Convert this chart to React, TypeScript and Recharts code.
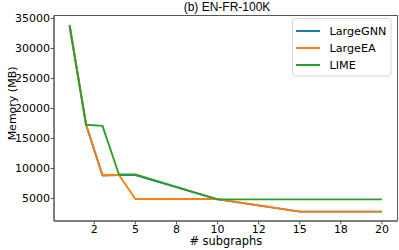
import React from 'react';
import { LineChart, Line, XAxis, YAxis, ReferenceArea, Legend } from 'recharts';

const subgraphs = [1, 2, 3, 4, 5, 10, 15, 20];
const largeGNN = [33950, 17300, 8800, 8900, 8900, 4850, 2800, 2800];
const largeEA = [33800, 17300, 8900, 8900, 4900, 4900, 2800, 2800];
const lime = [33700, 17300, 17100, 9000, 9000, 4850, 4850, 4850];

const seriesNames = ['LargeGNN', 'LargeEA', 'LIME'];
const seriesColors = ['#1f77b4', '#ff7f0e', '#2ca02c'];

const xTickValues = [2.5, 5, 7.5, 10, 12.5, 15, 17.5, 20];
const xTickLabels = ['2', '5', '8', '10', '12', '15', '18', '20'];
const yTickValues = [5000, 10000, 15000, 20000, 25000, 30000, 35000];

const title = '(b) EN-FR-100K';
const xLabel = '# subgraphs';
const yLabel = 'Memory (MB)';

const X_DOMAIN: [number, number] = [0.05, 20.95];
const Y_DOMAIN: [number, number] = [1240, 35510];

const data = subgraphs.map((x, i) => ({
  x,
  LargeGNN: largeGNN[i],
  LargeEA: largeEA[i],
  LIME: lime[i],
}));

const tickFont = { fontFamily: 'DejaVu Sans', fontSize: 11, fill: '#000' };

const LegendBox = (props: any) => {
  const payload = ([...(props.payload || [])] as any[]).sort(
    (a, b) => seriesNames.indexOf(a.value) - seriesNames.indexOf(b.value)
  );
  return (
    <svg width={100} height={59} style={{ display: 'block' }}>
      <rect x={0.5} y={0.5} width={98.5} height={57.5} rx={3} ry={3} fill="#fff" fillOpacity={0.8} stroke="#d6d6d6" strokeWidth={1} />
      {payload.map((p, i) => (
        <g key={p.value}>
          <line x1={4} x2={28} y1={13 + i * 17} y2={13 + i * 17} stroke={p.color} strokeWidth={2} />
          <text x={37.5} y={13 + i * 17} dy="0.36em" fontFamily="DejaVu Sans" fontSize={11.2} fill="#000">
            {p.value}
          </text>
        </g>
      ))}
    </svg>
  );
};

export default function App() {
  return (
    <div style={{ position: 'absolute', left: 0, top: 0, width: 399, height: 250, background: '#fff' }}>
      <div
        style={{
          position: 'absolute',
          left: 0,
          width: 454,
          top: 0,
          textAlign: 'center',
          fontFamily: 'Liberation Sans',
          fontSize: 12,
          lineHeight: '15px',
          color: '#000',
          whiteSpace: 'nowrap',
        }}
      >
        {title}
      </div>
      <LineChart
        width={399}
        height={250}
        data={data}
        margin={{ top: 15.5, right: 1.4, left: 0, bottom: 0 }}
      >
        <XAxis
          dataKey="x"
          type="number"
          domain={X_DOMAIN}
          allowDataOverflow
          ticks={xTickValues}
          tickFormatter={(v: number) => xTickLabels[xTickValues.indexOf(v)] ?? String(v)}
          interval={0}
          height={29}
          tickSize={3.5}
          tickMargin={0.5}
          tick={tickFont}
          axisLine={{ stroke: '#555', strokeWidth: 1 }}
          tickLine={{ stroke: '#555', strokeWidth: 1 }}
          label={{
            value: xLabel,
            position: 'insideBottom',
            offset: 5,
            fontFamily: 'DejaVu Sans',
            fontSize: 11.4,
            fill: '#000',
          }}
        />
        <YAxis
          type="number"
          domain={Y_DOMAIN}
          allowDataOverflow
          ticks={yTickValues}
          interval={0}
          width={54}
          tickSize={3.5}
          tickMargin={0.5}
          tick={tickFont}
          axisLine={{ stroke: '#555', strokeWidth: 1 }}
          tickLine={{ stroke: '#555', strokeWidth: 1 }}
          label={(props: any) => {
            const vb = props.viewBox || { x: 0, y: 15.5, width: 54, height: 205.5 };
            const cx = vb.x + 16;
            const cy = vb.y + vb.height / 2 - 14.8;
            return (
              <text
                x={cx}
                y={cy}
                transform={`rotate(-90 ${cx} ${cy})`}
                textAnchor="middle"
                fontFamily="DejaVu Sans"
                fontSize={11}
                fill="#000"
              >
                {yLabel}
              </text>
            );
          }}
        />
        <ReferenceArea
          x1={X_DOMAIN[0]}
          x2={X_DOMAIN[1]}
          y1={Y_DOMAIN[0]}
          y2={Y_DOMAIN[1]}
          fill="none"
          fillOpacity={0}
          stroke="#555"
          strokeWidth={1}
          ifOverflow="visible"
        />
        {seriesNames.map((name, i) => (
          <Line
            key={name}
            dataKey={name}
            name={name}
            type="linear"
            stroke={seriesColors[i]}
            strokeWidth={1.9}
            strokeLinejoin="round"
            dot={false}
            activeDot={false}
            isAnimationActive={false}
          />
        ))}
        <Legend
          layout="horizontal"
          align="center"
          verticalAlign="middle"
          content={<LegendBox />}
          wrapperStyle={{ left: 292, top: 18, width: 100, height: 59 }}
        />
      </LineChart>
    </div>
  );
}
